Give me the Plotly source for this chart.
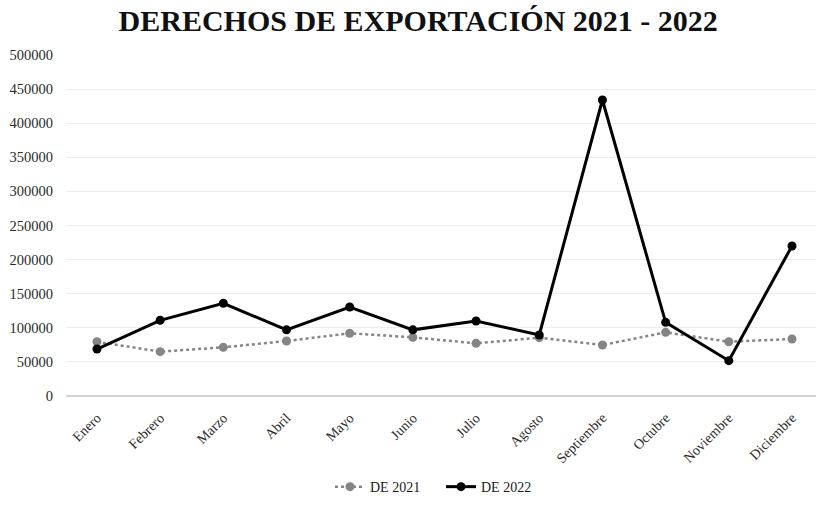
import plotly.graph_objects as go

months = ["Enero", "Febrero", "Marzo", "Abril", "Mayo", "Junio", "Julio",
          "Agosto", "Septiembre", "Octubre", "Noviembre", "Diciembre"]
de_2021 = [79600, 65000, 71400, 80600, 92000, 86000, 77200, 85500, 74800, 93300, 79600, 83600]
de_2022 = [68900, 111000, 136000, 97000, 130500, 97000, 110000, 89500, 434000, 108000, 51800, 220000]
y_ticks = [0, 50000, 100000, 150000, 200000, 250000, 300000, 350000, 400000, 450000, 500000]

font_family = "Liberation Serif, Times New Roman, serif"

fig = go.Figure()
fig.add_trace(go.Scatter(
    x=list(range(len(months))), y=de_2021, name="DE 2021", mode="lines+markers",
    line=dict(color="#858585", width=2.5, dash="dot"),
    marker=dict(color="#858585", size=9),
))
fig.add_trace(go.Scatter(
    x=list(range(len(months))), y=de_2022, name="DE 2022", mode="lines+markers",
    line=dict(color="#000000", width=3),
    marker=dict(color="#000000", size=9),
))

fig.update_layout(
    width=820, height=505,
    margin=dict(l=66, r=4, t=55, b=109, autoexpand=False),
    paper_bgcolor="white", plot_bgcolor="white",
    font=dict(family=font_family, color="#222222", size=14),
    title=dict(text="<b>DERECHOS DE EXPORTACIÓN 2021 - 2022</b>",
               x=0.51, xanchor="center", y=0.96, yanchor="middle",
               font=dict(family=font_family, size=30, color="#111111")),
    showlegend=True,
    legend=dict(orientation="h", x=0.5, xanchor="center", y=-0.267, yanchor="middle",
                entrywidth=66, entrywidthmode="pixels",
                font=dict(family=font_family, size=14, color="#1a1a1a")),
)
fig.update_xaxes(
    tickmode="array", tickvals=list(range(len(months))), ticktext=months,
    range=[-0.49, 11.38], tickangle=-45, showgrid=False, zeroline=False,
    showline=False, ticks="", ticklabelstandoff=10,
    tickfont=dict(size=14, color="#2a2a2a"),
)
fig.update_yaxes(
    range=[0, 500000], tickmode="array", tickvals=y_ticks,
    ticktext=[str(v) for v in y_ticks],
    showgrid=True, gridcolor="#ededed", gridwidth=1,
    zeroline=True, zerolinecolor="#d4d4d4", zerolinewidth=1.5,
    showline=False, ticks="", ticklabelstandoff=12,
    tickfont=dict(size=14.5, color="#2a2a2a"),
)

fig.write_html("out.html")
